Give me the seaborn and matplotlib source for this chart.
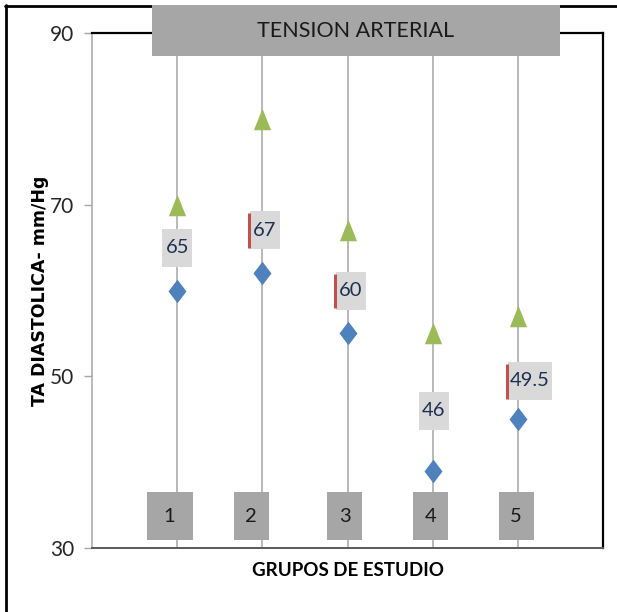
import matplotlib
matplotlib.use("Agg")
import matplotlib.pyplot as plt
from matplotlib.patches import Rectangle
from matplotlib.lines import Line2D
import seaborn as sns
import pandas as pd

# ---- data ----
groups = [1, 2, 3, 4, 5]
max_vals = [70, 80, 67, 55, 57]        # green triangles
min_vals = [60, 62, 55, 39, 45]        # blue diamonds
mean_vals = [65, 67, 60, 46, 49.5]     # labelled boxes
mean_text = ["65", "67", "60", "46", "49.5"]
red_mark = [False, True, True, False, True]
group_labels = ["1", "2", "3", "4", "5"]
yticks = [30, 50, 70, 90]

sns.set_style("white")
narrow = ["Lato", "DejaVu Sans"]
plt.rcParams["font.family"] = narrow

df_max = pd.DataFrame({"grupo": groups, "valor": max_vals})
df_min = pd.DataFrame({"grupo": groups, "valor": min_vals})

fig = plt.figure(figsize=(6.17, 6.12), dpi=100)
ax = fig.add_axes([92 / 617, 1 - 548 / 612, (603 - 92) / 617, (548 - 33) / 612])

# vertical grid lines per group
ax.set_xlim(0, 6)
ax.set_ylim(30, 90)
ax.set_xticks(groups)
ax.xaxis.grid(True, color="#A6A6A6", lw=1.1)
ax.yaxis.grid(False)
ax.set_axisbelow(True)

tri = [(-0.4, -0.5), (0.4, -0.5), (0.0, 0.5), (-0.4, -0.5)]
dia = [(0.0, 0.5), (0.38, 0.0), (0.0, -0.5), (-0.38, 0.0), (0.0, 0.5)]
sns.scatterplot(data=df_max, x="grupo", y="valor", marker=tri, s=240,
                color="#9BBB59", linewidth=0, ax=ax, zorder=4)
sns.scatterplot(data=df_min, x="grupo", y="valor", marker=dia, s=290,
                color="#4F81BD", linewidth=0, ax=ax, zorder=4)

# mean value label boxes
xscale = 6 / 511.0
yscale = 60 / 515.0
label_dx = [0.0, 0.03, 0.04, 0.01, 0.14]
for g, m, t, dx, red in zip(groups, mean_vals, mean_text, label_dx, red_mark):
    w = (30 if len(t) <= 2 else 44) * xscale
    h = 38 * yscale
    cx = g + dx
    ax.add_patch(Rectangle((cx - w / 2, m - h / 2), w, h, facecolor="#D9D9D9",
                           edgecolor="none", zorder=5))
    ax.text(cx, m, t, ha="center", va="center", fontsize=14.5, color="#1F3150",
            zorder=6)
    if red:
        ax.plot([cx - w / 2 - 1.2 * xscale] * 2, [m - h / 2 + 1 * yscale, m + h / 2 - 2 * yscale],
                color="#C0504D", lw=2.2, zorder=6, solid_capstyle="butt")

# group number boxes at bottom
box_dx = [-0.09, -0.13, -0.03, -0.02, -0.02]
box_w = [46, 35, 35, 35, 35]
for g, lab, dx, bw in zip(groups, group_labels, box_dx, box_w):
    w = bw * xscale
    h = 48 * yscale
    cy = 33.7
    ax.add_patch(Rectangle((g + dx - w / 2, cy - h / 2), w, h, facecolor="#A6A6A6",
                           edgecolor="none", zorder=5))
    ax.text(g + dx, cy, lab, ha="center", va="center", fontsize=14.5,
            color="#1A1A1A", zorder=6)

# axes styling
ax.set_xticklabels([])
ax.tick_params(axis="x", length=0)
ax.set_yticks(yticks)
ax.tick_params(axis="y", length=6, width=1, color="#A6A6A6", pad=7,
               labelsize=15, labelcolor="#262626", left=True)
for sp in ["top", "right"]:
    ax.spines[sp].set_color("#000000")
    ax.spines[sp].set_linewidth(1.6)
ax.spines["left"].set_color("#A6A6A6")
ax.spines["left"].set_linewidth(1.1)
ax.spines["bottom"].set_color("#595959")
ax.spines["bottom"].set_linewidth(1.4)

ax.set_ylabel("TA DIASTOLICA- mm/Hg", fontsize=12.5, fontweight="bold",
              family=["DejaVu Sans"], color="#000000")
ax.yaxis.label.set_va("center")
ax.yaxis.set_label_coords(-(92 - 40) / 511, 0.5)
ax.set_xlabel("GRUPOS DE ESTUDIO", fontsize=13.5, fontweight="bold", color="#000000")
ax.xaxis.label.set_va("center")
ax.xaxis.set_label_coords(0.5, -(570 - 548) / 515)

# title box
fig.patches.append(Rectangle((152 / 617, 1 - 56 / 612), 408 / 617, 51 / 612,
                             transform=fig.transFigure, facecolor="#A6A6A6",
                             edgecolor="none", zorder=10))
fig.text(356 / 617, 1 - 31 / 612, "TENSION ARTERIAL", ha="center", va="center",
         fontsize=15.5, color="#1A1A1A", zorder=11)

# outer figure border (left and top)
fig.add_artist(Line2D([5.5 / 617, 5.5 / 617], [0, 1 - 5 / 612], transform=fig.transFigure,
                      color="black", lw=2))
fig.add_artist(Line2D([5 / 617, 1], [1 - 5.5 / 612, 1 - 5.5 / 612], transform=fig.transFigure,
                      color="black", lw=2))

fig.savefig("out.png", dpi=100)
